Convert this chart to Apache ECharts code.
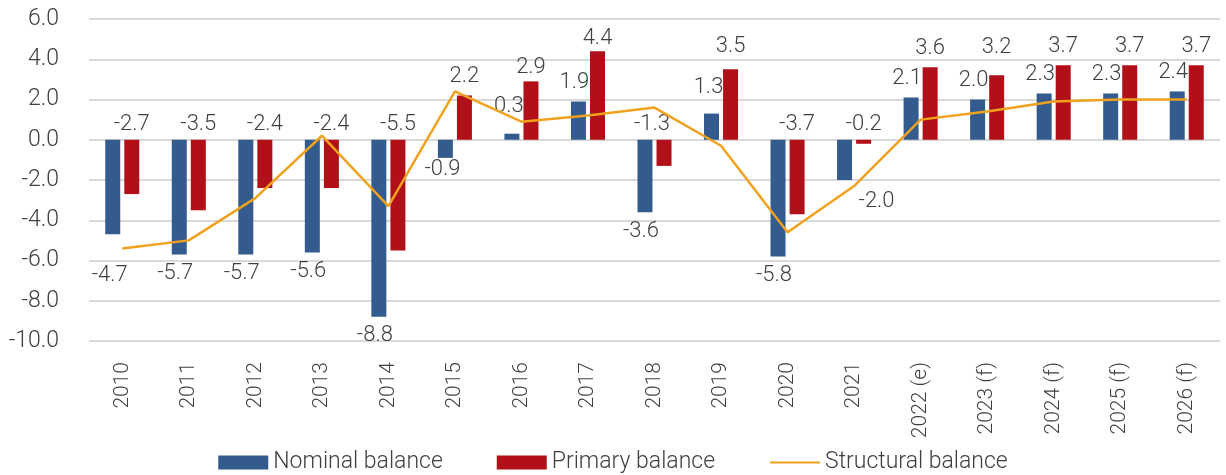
<!DOCTYPE html>
<html>
<head>
<meta charset="utf-8">
<script src="https://cdn.jsdelivr.net/npm/echarts@6/dist/echarts.min.js"></script>
<style>
  html, body { margin: 0; padding: 0; background: #fff; }
  #chart { width: 1226px; height: 475px; }
</style>
</head>
<body>
<div id="chart"></div>
<script>
const years = ['2010', '2011', '2012', '2013', '2014', '2015', '2016', '2017', '2018', '2019',
  '2020', '2021', '2022 (e)', '2023 (f)', '2024 (f)', '2025 (f)', '2026 (f)'];
const nominal = [-4.7, -5.7, -5.7, -5.6, -8.8, -0.9, 0.3, 1.9, -3.6, 1.3, -5.8, -2.0, 2.1, 2.0, 2.3, 2.3, 2.4];
const primary = [-2.7, -3.5, -2.4, -2.4, -5.5, 2.2, 2.9, 4.4, -1.3, 3.5, -3.7, -0.2, 3.6, 3.2, 3.7, 3.7, 3.7];
const structural = [-5.4, -5.0, -2.9, 0.2, -3.3, 2.4, 0.9, 1.2, 1.6, -0.3, -4.6, -2.3, 1.0, 1.4, 1.9, 2.0, 2.0];
const yTicks = { min: -10, max: 6, step: 2 };

const FONT = 'Roboto';
const TXT = '#404040';

// hand-placed labels in the original, nudged here
const nomShift = { 0: [-3, 22], 5: [-3, -7], 6: [-3, -8], 9: [-3, -7], 11: [32, 2] };
const priShift = { 6: [0, 5], 7: [0, 6], 8: [-12, 0], 9: [0, -4], 13: [0, -9] };

const labelBase = {
  show: true,
  color: TXT,
  fontFamily: FONT,
  fontSize: 22,
  fontWeight: 300,
  formatter: p => p.value.toFixed(1)
};

const nomData = nominal.map((v, i) => ({
  value: v,
  label: Object.assign({}, labelBase, {
    position: v < 0 ? 'bottom' : 'top',
    distance: 8,
    offset: nomShift[i] || [-4, 0]
  })
}));

const priData = primary.map((v, i) => ({
  value: v,
  label: Object.assign({}, labelBase, {
    position: 'top',
    distance: v < 0 ? 4 : 8,
    offset: priShift[i] || [0, 0]
  })
}));

const chart = echarts.init(document.getElementById('chart'));
chart.setOption({
  animation: false,
  textStyle: { fontFamily: FONT, color: TXT },
  grid: { left: 89, right: 6, top: 19, bottom: 134, containLabel: false },
  legend: {
    top: 446,
    left: 'center',
    itemWidth: 50,
    itemHeight: 14,
    itemGap: 54,
    textStyle: { fontFamily: FONT, fontSize: 23, fontWeight: 300, color: TXT },
    data: [
      { name: 'Nominal balance', icon: 'rect' },
      { name: 'Primary balance', icon: 'rect' },
      { name: 'Structural balance', itemStyle: { opacity: 0 } }
    ]
  },
  xAxis: {
    type: 'category',
    data: years,
    axisLine: { show: false, onZero: false },
    axisTick: { show: false },
    axisLabel: {
      rotate: 90,
      margin: 21,
      fontFamily: FONT,
      fontSize: 21,
      fontWeight: 300,
      color: TXT
    }
  },
  yAxis: {
    type: 'value',
    min: yTicks.min,
    max: yTicks.max,
    interval: yTicks.step,
    axisLine: { show: false },
    axisTick: { show: false },
    axisLabel: {
      margin: 30,
      fontFamily: FONT,
      fontSize: 23,
      fontWeight: 300,
      color: TXT,
      formatter: v => v.toFixed(1)
    },
    splitLine: { lineStyle: { color: '#d9d9d9', width: 2 } }
  },
  series: [
    {
      name: 'Nominal balance',
      type: 'bar',
      data: nomData,
      barWidth: 15,
      barGap: '27%',
      itemStyle: { color: '#335b8e' }
    },
    {
      name: 'Primary balance',
      type: 'bar',
      data: priData,
      barWidth: 15,
      itemStyle: { color: '#b11018' }
    },
    {
      name: 'Structural balance',
      type: 'line',
      data: structural,
      symbol: 'none',
      lineStyle: { color: '#f0a21e', width: 2.5 },
      itemStyle: { color: '#f0a21e' },
      z: 5
    }
  ]
});
window.addEventListener('resize', () => chart.resize());
</script>
</body>
</html>
